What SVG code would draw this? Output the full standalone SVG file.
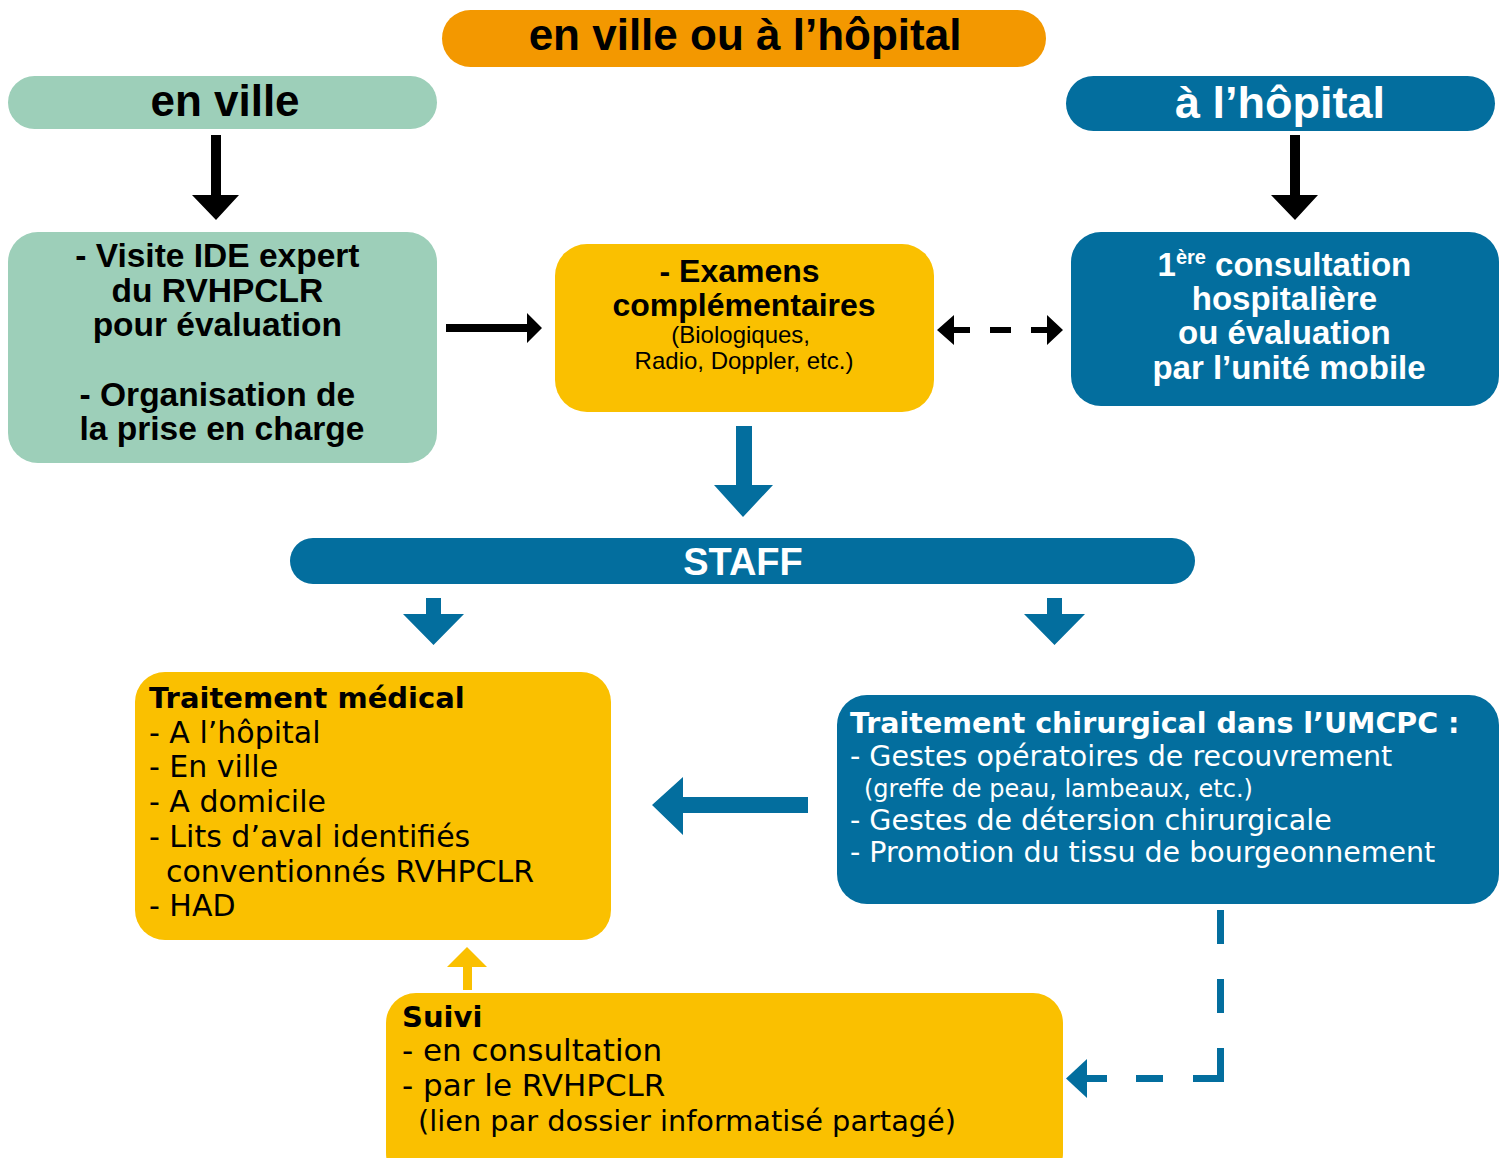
<svg xmlns="http://www.w3.org/2000/svg" width="1506" height="1158" viewBox="0 0 1506 1158">
<style>
.hd{font-family:"Liberation Sans",Arial,sans-serif;font-weight:bold;}
.lo{font-family:"DejaVu Sans","Liberation Sans",sans-serif;}
.c{text-anchor:middle;}
.blk{fill:#000;}
.wht{fill:#fff;}
.orange{fill:#F39800;}
.green{fill:#9DCFB9;}
.blue{fill:#036E9E;}
.yellow{fill:#FAC000;}
</style>
<rect width="1506" height="1158" fill="#fff"/>

<g id="node-top">
<rect class="orange" x="442" y="10" width="604" height="57" rx="28.5"/>
<text class="hd c blk" x="745" y="50" font-size="44">en ville ou à l’hôpital</text>
</g>

<g id="node-ville">
<rect class="green" x="8" y="76" width="429" height="53" rx="26.5"/>
<text class="hd c blk" x="225" y="116" font-size="44">en ville</text>
</g>

<g id="node-hopital">
<rect class="blue" x="1066" y="76" width="429" height="55" rx="27.5"/>
<text class="hd c wht" x="1280" y="118" font-size="45">à l’hôpital</text>
</g>

<g id="node-visite">
<rect class="green" x="8" y="232" width="429" height="231" rx="30"/>
<text class="hd c blk" font-size="33.5">
<tspan x="222" y="267">- Visite IDE expert</tspan>
<tspan x="222" y="302">du RVHPCLR</tspan>
<tspan x="222" y="336">pour évaluation</tspan>
<tspan x="222" y="406">- Organisation de</tspan>
<tspan x="222" y="440">la prise en charge</tspan>
</text>
</g>

<g id="node-examens">
<rect class="yellow" x="555" y="244" width="379" height="168" rx="32"/>
<text class="hd c blk" font-size="32">
<tspan x="744" y="282">- Examens</tspan>
<tspan x="744" y="316">complémentaires</tspan>
</text>
<text class="c blk" font-family="Liberation Sans, Arial, sans-serif" font-size="24">
<tspan x="744" y="343">(Biologiques,</tspan>
<tspan x="744" y="369">Radio, Doppler, etc.)</tspan>
</text>
</g>

<g id="node-consultation">
<rect class="blue" x="1071" y="232" width="428" height="174" rx="30"/>
<text class="hd c wht" font-size="33">
<tspan x="1289" y="276">1<tspan font-size="20" dy="-12">ère</tspan><tspan dy="12"> consultation</tspan></tspan>
<tspan x="1289" y="310">hospitalière</tspan>
<tspan x="1289" y="344">ou évaluation</tspan>
<tspan x="1289" y="379">par l’unité mobile</tspan>
</text>
</g>

<g id="node-staff">
<rect class="blue" x="290" y="538" width="905" height="46" rx="23"/>
<text class="hd c wht" x="743" y="575" font-size="38">STAFF</text>
</g>

<g id="node-medical">
<rect class="yellow" x="135" y="672" width="476" height="268" rx="30"/>
<text class="lo blk" font-size="30">
<tspan x="149" y="708" font-weight="bold" font-size="29">Traitement médical</tspan>
<tspan x="149" y="743">- A l’hôpital</tspan>
<tspan x="149" y="777">- En ville</tspan>
<tspan x="149" y="812">- A domicile</tspan>
<tspan x="149" y="847">- Lits d’aval identifiés</tspan>
<tspan x="166" y="882">conventionnés RVHPCLR</tspan>
<tspan x="149" y="916">- HAD</tspan>
</text>
</g>

<g id="node-chirurgical">
<rect class="blue" x="837" y="695" width="662" height="209" rx="30"/>
<text class="lo wht" font-size="28.5">
<tspan x="850" y="733" font-weight="bold">Traitement chirurgical dans l’UMCPC :</tspan>
<tspan x="850" y="766">- Gestes opératoires de recouvrement</tspan>
<tspan x="864" y="797" font-size="24">(greffe de peau, lambeaux, etc.)</tspan>
<tspan x="850" y="830">- Gestes de détersion chirurgicale</tspan>
<tspan x="850" y="862">- Promotion du tissu de bourgeonnement</tspan>
</text>
</g>

<g id="node-suivi">
<rect class="yellow" x="386" y="993" width="677" height="190" rx="30"/>
<text class="lo blk" font-size="31">
<tspan x="402" y="1027" font-weight="bold" font-size="29">Suivi</tspan>
<tspan x="402" y="1061">- en consultation</tspan>
<tspan x="402" y="1096">- par le RVHPCLR</tspan>
<tspan x="418" y="1131" font-size="28.8">(lien par dossier informatisé partagé)</tspan>
</text>
</g>

<g id="connectors">
<polygon class="blk" points="211,135 221,135 221,195 239,195 216,220 192,195 211,195"/>
<polygon class="blk" points="1290,135 1300,135 1300,195 1318,195 1295,220 1271,195 1290,195"/>
<polygon class="blk" points="446,324 527,324 527,313 542,328 527,343 527,332 446,332"/>
<polygon class="blk" points="937,330 954,315 954,327 970,327 970,333 954,333 954,345"/>
<rect class="blk" x="990" y="327" width="21" height="6"/>
<polygon class="blk" points="1063,330 1047,315 1047,327 1031,327 1031,333 1047,333 1047,345"/>
<polygon class="blue" points="736,426 752,426 752,485 773,485 743,517 714,485 736,485"/>
<polygon class="blue" points="426,598 441,598 441,614 464,614 433.5,645 403,614 426,614"/>
<polygon class="blue" points="1047,598 1062,598 1062,614 1085,614 1054.5,645 1024,614 1047,614"/>
<polygon class="blue" points="808,797 683,797 683,777 652,805 683,835 683,813 808,813"/>
<polygon class="yellow" points="463,990 472,990 472,967 487,967 467,947 447,967 463,967"/>
<g class="blue">
<rect x="1217" y="910" width="7" height="34"/>
<rect x="1217" y="979" width="7" height="34"/>
<rect x="1217" y="1048" width="7" height="34"/>
<rect x="1193" y="1075" width="31" height="7"/>
<rect x="1136" y="1075" width="27" height="7"/>
<rect x="1085" y="1075" width="22" height="7"/>
<polygon points="1066,1078.5 1087,1059 1087,1098"/>
</g>
</g>
</svg>
